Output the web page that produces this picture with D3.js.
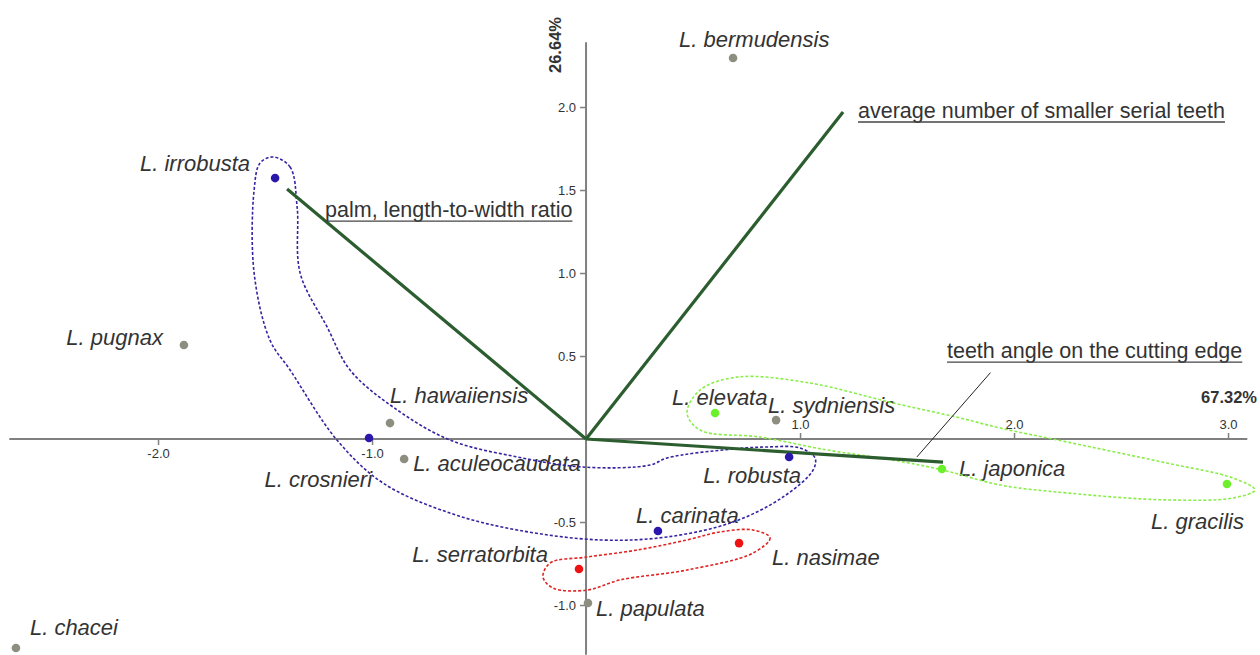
<!DOCTYPE html>
<html><head><meta charset="utf-8">
<script src="https://cdn.jsdelivr.net/npm/d3@7"></script>
<style>body{margin:0;background:#fff} svg{display:block}</style>
</head><body><svg id="c" width="1260" height="655"></svg>
<script>
// ---- data ----
const species = ["L. bermudensis","L. irrobusta","L. pugnax","L. hawaiiensis","L. crosnieri","L. aculeocaudata","L. elevata","L. sydniensis","L. robusta","L. japonica","L. gracilis","L. carinata","L. nasimae","L. serratorbita","L. papulata","L. chacei"];
const pc1 = [0.687,-1.453,-1.879,-0.916,-1.014,-0.850,0.603,0.888,0.949,1.663,2.995,0.336,0.715,-0.033,0.009,-2.664];
const pc2 = [2.295,1.572,0.566,0.096,0.006,-0.120,0.157,0.114,-0.108,-0.181,-0.271,-0.554,-0.627,-0.783,-0.988,-1.259];
const group = ["other","blue","other","other","blue","other","green","other","blue","green","green","blue","red","red","other","other"];
const variables = ["average number of smaller serial teeth","palm, length-to-width ratio","teeth angle on the cutting edge"];
const loadX = [1.201,-1.397,1.668];
const loadY = [1.970,1.506,-0.139];
const xTicksNeg = [-2,-1];
const xTicksPos = [1,2,3];
const yTicks = [-1,-0.5,0.5,1,1.5,2];
const axisPct = ["67.32%","26.64%"];
// group outlines (data units)
const blueHullX = [-1.463,-1.383,-1.350,-1.336,-1.210,-1.103,-0.902,-0.636,-0.322,-0.014,0.299,0.379,0.687,0.846,1.000,1.070,1.061,0.921,0.687,0.379,0.065,-0.322,-0.636,-0.949,-1.164,-1.383,-1.477,-1.551,-1.551,-1.523];
const blueHullY = [1.699,1.639,1.398,1.000,0.675,0.416,0.193,-0.006,-0.108,-0.169,-0.157,-0.114,-0.060,-0.048,-0.054,-0.114,-0.187,-0.349,-0.500,-0.590,-0.608,-0.548,-0.446,-0.265,-0.006,0.416,0.596,1.000,1.500,1.663];
const redHullX = [0.780,0.860,0.780,0.472,0.159,0.005,-0.154,-0.201,-0.168,0.005,0.238,0.472,0.626];
const redHullY = [-0.548,-0.596,-0.687,-0.789,-0.849,-0.910,-0.898,-0.831,-0.747,-0.711,-0.669,-0.608,-0.560];
const greenHullX = [0.706,1.047,1.435,1.748,1.935,2.248,2.715,3.023,3.126,3.023,2.715,2.248,1.935,1.668,1.435,1.126,0.813,0.533,0.472,0.533];
const greenHullY = [0.373,0.337,0.217,0.127,0.066,-0.018,-0.145,-0.235,-0.307,-0.355,-0.367,-0.325,-0.277,-0.187,-0.127,-0.066,0.012,0.054,0.157,0.295];
const leaderX = [1.89,1.546];
const leaderY = [0.40,-0.108];

// ---- styling / layout ----
const svg = d3.select("#c");
const font = "'Liberation Sans', Arial, Helvetica, sans-serif";
const x = d3.scaleLinear().domain([-2.695, 3.09]).range([9.3, 1247.3]);
const y = d3.scaleLinear().domain([-1.30, 2.39]).range([654.8, 42.3]);
const colors = {other:"#8e8e80", blue:"#2a18ad", green:"#6df02c", red:"#f01212"};
const hullColors = {blue:"#3524a0", red:"#e02424", green:"#8aee4a"};
const labelPos = { // anchor, dx, dy (pixels from point)
 "L. bermudensis":["start",-54,-11],
 "L. irrobusta":["end",-25,-7],
 "L. pugnax":["end",-21,0],
 "L. hawaiiensis":["start",0,-20],
 "L. crosnieri":["end",3,49],
 "L. aculeocaudata":["start",9,12],
 "L. elevata":["start",-43,-8],
 "L. sydniensis":["start",-8,-7],
 "L. robusta":["end",12,26],
 "L. japonica":["start",17,7],
 "L. gracilis":["end",17,45],
 "L. carinata":["start",-22,-8],
 "L. nasimae":["start",33,22],
 "L. serratorbita":["end",-31,-7],
 "L. papulata":["start",8,13],
 "L. chacei":["start",14,-13]
};
const varPos = [[15,6],[38,28],[4,-104]];

// axes lines
const axG = svg.append("g");
axG.append("line").attr("x1", x.range()[0]).attr("x2", x.range()[1]).attr("y1", y(0)).attr("y2", y(0))
  .attr("stroke","#808080").attr("stroke-width",2);
axG.append("line").attr("x1", x(0)).attr("x2", x(0)).attr("y1", y.range()[1]).attr("y2", y.range()[0])
  .attr("stroke","#808080").attr("stroke-width",2);
const fmt = d => d.toFixed(1);
function styleAxis(g){
  g.select(".domain").remove();
  g.selectAll(".tick line").attr("stroke","#808080").attr("stroke-width",1.5);
  g.selectAll(".tick text").attr("fill","#333").style("font-family",font).style("font-size","13px");
}
svg.append("g").attr("transform",`translate(0,${y(0)})`)
  .call(d3.axisBottom(x).tickValues(xTicksNeg).tickFormat(fmt).tickSize(6).tickPadding(4)).call(styleAxis);
svg.append("g").attr("transform",`translate(0,${y(0)})`)
  .call(d3.axisTop(x).tickValues(xTicksPos).tickFormat(fmt).tickSize(6).tickPadding(4)).call(styleAxis);
svg.append("g").attr("transform",`translate(${x(0)},0)`)
  .call(d3.axisLeft(y).tickValues(yTicks).tickFormat(fmt).tickSize(6).tickPadding(4)).call(styleAxis);

// percentages
svg.append("text").attr("x",1257).attr("y",403).attr("text-anchor","end")
  .style("font-family",font).style("font-size","16.5px").style("font-weight","bold").attr("fill","#333").text(axisPct[0]);
svg.append("text").attr("transform",`translate(561,45) rotate(-90)`).attr("text-anchor","middle")
  .style("font-family",font).style("font-size","16.5px").style("font-weight","bold").attr("fill","#333").text(axisPct[1]);

// point labels
const pts = species.map((s,i)=>({s, x:pc1[i], y:pc2[i], g:group[i]}));
svg.append("g").selectAll("text").data(pts).join("text")
  .attr("x", d=>x(d.x)+labelPos[d.s][1]).attr("y", d=>y(d.y)+labelPos[d.s][2])
  .attr("text-anchor", d=>labelPos[d.s][0])
  .style("font-family",font).style("font-size","22px").style("font-style","italic")
  .attr("fill","#333").text(d=>d.s);

// hulls
const hullLine = d3.line().x(d=>x(d[0])).y(d=>y(d[1])).curve(d3.curveCatmullRomClosed.alpha(0.5));
const hulls = [
  {g:"blue", p:d3.zip(blueHullX, blueHullY)},
  {g:"red", p:d3.zip(redHullX, redHullY)},
  {g:"green", p:d3.zip(greenHullX, greenHullY)}
];
svg.append("g").selectAll("path").data(hulls).join("path")
  .attr("d", d=>hullLine(d.p)).attr("fill","none")
  .attr("stroke", d=>hullColors[d.g]).attr("stroke-width",1.6).attr("stroke-dasharray","3,2");

// vectors
const vecs = variables.map((v,i)=>({v, x:loadX[i], y:loadY[i], off:varPos[i]}));
svg.append("g").selectAll("line").data(vecs).join("line")
  .attr("x1", x(0)).attr("y1", y(0)).attr("x2", d=>x(d.x)).attr("y2", d=>y(d.y))
  .attr("stroke","#2c5d2f").attr("stroke-width",3.2).attr("stroke-linecap","butt");

// leader
svg.append("line").attr("x1",x(leaderX[0])).attr("y1",y(leaderY[0])).attr("x2",x(leaderX[1])).attr("y2",y(leaderY[1]))
  .attr("stroke","#222").attr("stroke-width",1);

// variable labels with underline
const vl = svg.append("g").selectAll("g").data(vecs).join("g");
vl.append("text").attr("x", d=>x(d.x)+d.off[0]).attr("y", d=>y(d.y)+d.off[1])
  .style("font-family",font).style("font-size","21.5px").attr("fill","#333").text(d=>d.v)
  .each(function(d){
    const len = this.getComputedTextLength();
    d3.select(this.parentNode).append("line")
      .attr("x1", x(d.x)+d.off[0]).attr("x2", x(d.x)+d.off[0]+len)
      .attr("y1", y(d.y)+d.off[1]+4).attr("y2", y(d.y)+d.off[1]+4)
      .attr("stroke","#444").attr("stroke-width",1.3);
  });

// points
svg.append("g").selectAll("circle").data(pts).join("circle")
  .attr("cx", d=>x(d.x)).attr("cy", d=>y(d.y)).attr("r",4.3)
  .attr("fill", d=>colors[d.g]);
</script></body></html>
